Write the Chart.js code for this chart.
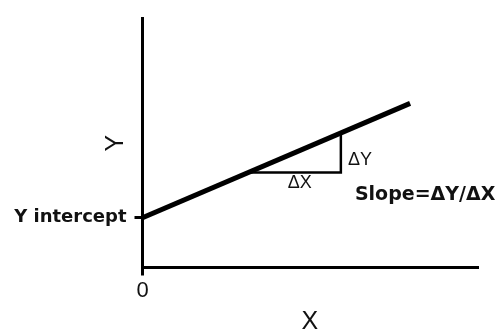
<!DOCTYPE html>
<html>
<head>
<meta charset="utf-8">
<script src="https://cdn.jsdelivr.net/npm/chart.js@4/dist/chart.umd.min.js"></script>
<style>
  html, body { margin: 0; padding: 0; background: #fff; }
  canvas { display: block; }
</style>
</head>
<body>
<canvas id="chart" width="497" height="334"></canvas>
<script>
// slope diagram: one straight line, the rise/run triangle and labels
const xTicks = [0];
const xTickLabels = ['0'];
const yTicks = [2];
const yTickLabels = ['Y intercept'];

const lineX = [0, 8];
const lineY = [2, 6.6];

const triangleX = [3.17, 5.93, 5.93];
const triangleY = [3.82, 3.82, 5.41];

const noteText = ['\u0394Y', '\u0394X', 'Slope=\u0394Y/\u0394X'];
const noteX = [6.5, 4.7, 6.35];
const noteY = [4.32, 3.41, 2.9];

const toPoints = (xs, ys) => xs.map((x, i) => ({x: x, y: ys[i]}));

// draws the free text notes at data coordinates
const notesPlugin = {
    id: 'notes',
    afterDatasetsDraw(chart) {
        const ctx = chart.ctx;
        const xs = chart.scales.x, ys = chart.scales.y;
        ctx.save();
        ctx.fillStyle = '#111';
        ctx.textBaseline = 'middle';
        noteText.forEach((t, i) => {
            const isSlope = i === 2;
            ctx.font = isSlope ? 'bold 19px "DejaVu Sans"' : '18px "Liberation Sans"';
            ctx.textAlign = isSlope ? 'left' : 'center';
            ctx.fillText(t, xs.getPixelForValue(noteX[i]), ys.getPixelForValue(noteY[i]));
        });
        ctx.restore();
    }
};

new Chart(document.getElementById('chart'), {
    type: 'line',
    data: {
        datasets: [{
            data: toPoints(lineX, lineY),
            borderColor: '#000',
            borderWidth: 5,
            pointRadius: 0,
        }, {
            data: toPoints(triangleX, triangleY),
            borderColor: '#000',
            borderWidth: 2.5,
            pointRadius: 0,
        }]
    },
    options: {
        responsive: false,
        animation: false,
        layout: { padding: { top: 14, right: 20, left: 0, bottom: 0 } },
        plugins: { legend: { display: false }, tooltip: { enabled: false } },
        scales: {
            x: {
                type: 'linear',
                min: 0,
                max: 10,
                afterBuildTicks: (s) => { s.ticks = xTicks.map(v => ({value: v})); },
                afterFit: (s) => { s.height = 66.5; },
                ticks: {
                    callback: (v) => xTickLabels[xTicks.indexOf(v)],
                    color: '#111',
                    padding: 2,
                    maxRotation: 0,
                    font: { family: 'Liberation Sans', size: 22 },
                },
                grid: { drawOnChartArea: false, tickLength: 8, color: '#000', lineWidth: 3 },
                border: { color: '#000', width: 3 },
                title: {
                    display: true,
                    text: 'X',
                    color: '#111',
                    padding: { top: 0, bottom: -3 },
                    font: { family: 'Liberation Sans', size: 25 },
                },
            },
            y: {
                type: 'linear',
                min: 0,
                max: 10,
                afterBuildTicks: (s) => { s.ticks = yTicks.map(v => ({value: v})); },
                afterFit: (s) => { s.width = 142.5; },
                ticks: {
                    callback: (v) => yTickLabels[yTicks.indexOf(v)],
                    color: '#111',
                    padding: 8,
                    font: { family: 'DejaVu Sans', size: 18, weight: 'bold' },
                },
                grid: { drawOnChartArea: false, tickLength: 8, color: '#000', lineWidth: 3 },
                border: { color: '#000', width: 3 },
                title: {
                    display: true,
                    text: 'Y',
                    color: '#111',
                    padding: { top: 101, bottom: 0 },
                    font: { family: 'Liberation Sans', size: 25 },
                },
            },
        },
    },
    plugins: [notesPlugin],
});
</script>
</body>
</html>
